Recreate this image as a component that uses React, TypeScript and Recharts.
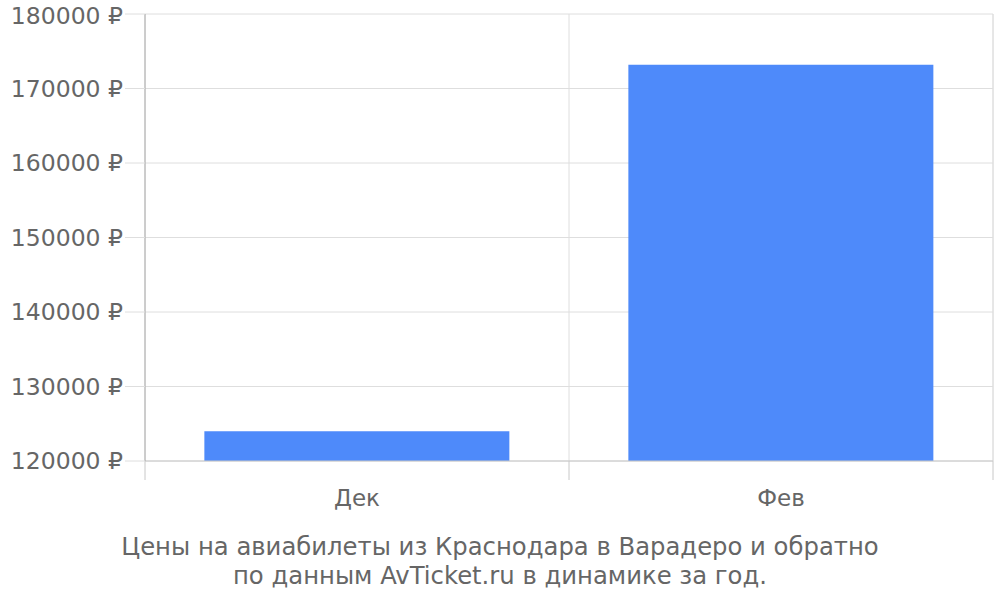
import { BarChart, Bar, XAxis, YAxis, CartesianGrid, ReferenceLine } from "recharts";

// Prices by month, RUB
const months = ["Дек", "Фев"];
const prices = [124000, 173200];
const yTicks = [120000, 130000, 140000, 150000, 160000, 170000, 180000];
const captionLines = [
  "Цены на авиабилеты из Краснодара в Варадеро и обратно",
  "по данным AvTicket.ru в динамике за год.",
];

const data = months.map((m, i) => ({ month: m, price: prices[i], pos: i + 0.5 }));

const FONT = "'DejaVu Sans', sans-serif";
const GRAY = "#666";

export default function App() {
  return (
    <div
      style={{
        position: "absolute",
        left: 0,
        top: 0,
        width: 1000,
        height: 600,
        background: "#fff",
        fontFamily: FONT,
      }}
    >
      <BarChart
        width={1000}
        height={525}
        data={data}
        margin={{ top: 14, right: 7, left: 0, bottom: 0 }}
        barCategoryGap="14%"
      >
        <CartesianGrid stroke="#dedede" strokeWidth={1} />
        {/* boundary ticks / vertical grid lines between months */}
        <XAxis
          dataKey="pos"
          type="number"
          domain={[0, 2]}
          ticks={[0, 1, 2]}
          tick={() => <g />}
          tickSize={19}
          height={19}
          axisLine={{ stroke: "#c8c8c8" }}
          tickLine={{ stroke: "#c8c8c8" }}
        />
        <XAxis
          xAxisId="cat"
          dataKey="month"
          height={45}
          axisLine={false}
          tickLine={false}
          tickMargin={4}
          tick={{ fill: GRAY, fontSize: 23, fontFamily: FONT }}
        />
        <YAxis
          width={145}
          domain={[120000, 180000]}
          ticks={yTicks}
          tickFormatter={(v: number) => `${v} ₽`}
          tickSize={20}
          tickMargin={2}
          axisLine={{ stroke: "#aaa" }}
          tickLine={{ stroke: "#dedede" }}
          tick={{ fill: GRAY, fontSize: 23.5, fontFamily: FONT }}
        />
        <ReferenceLine x={2} stroke="#dedede" />
        <Bar dataKey="price" xAxisId="cat" fill="#4e8afa" isAnimationActive={false} />
      </BarChart>
      <div
        style={{
          position: "absolute",
          left: 0,
          top: 532,
          width: 1000,
          textAlign: "center",
          color: GRAY,
          fontSize: 24.3,
          lineHeight: "29px",
        }}
      >
        {captionLines.map((l) => (
          <div key={l}>{l}</div>
        ))}
      </div>
    </div>
  );
}
